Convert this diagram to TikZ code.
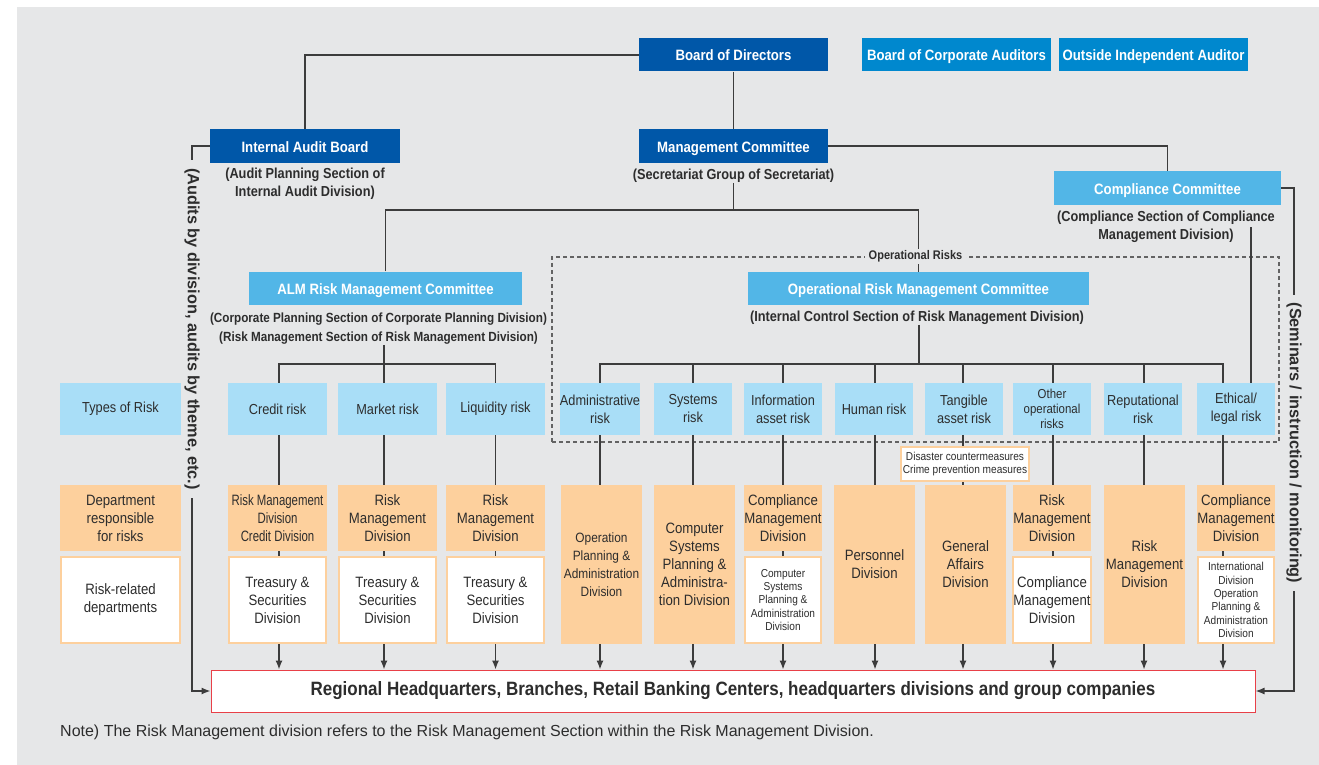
\documentclass[tikz,border=0pt]{standalone}
\usepackage{fontspec}
\setmainfont{Liberation Sans}[FakeStretch=0.88]
\newfontfamily\narrowfont{Liberation Sans}[FakeStretch=0.76]
\newfontfamily\widefont{Liberation Sans}
\usepackage{tikz}
\usepackage{xcolor}
\usetikzlibrary{arrows.meta}
\usetikzlibrary{positioning}

\definecolor{darkblue}{RGB}{0,87,168}
\definecolor{midblue}{RGB}{0,136,206}
\definecolor{lightblue}{RGB}{82,182,231}
\definecolor{riskblue}{RGB}{169,222,247}
\definecolor{peach}{RGB}{253,208,157}
\definecolor{bggray}{RGB}{230,231,232}
\definecolor{textgray}{RGB}{45,45,45}
\definecolor{linegray}{RGB}{60,60,60}
\definecolor{redline}{RGB}{232,64,72}

\newcommand{\fhead}{\bfseries\fontsize{15}{18}\selectfont}
\newcommand{\fsub}{\bfseries\fontsize{14.5}{18}\selectfont}
\newcommand{\frisk}{\fontsize{14.5}{18}\selectfont}
\newcommand{\fdept}{\fontsize{15}{18}\selectfont}
\newcommand{\fsmall}{\fontsize{11.5}{13.3}\selectfont}
\newcommand{\fside}{\widefont\bfseries\fontsize{16.3}{18}\selectfont}
\newcommand{\flabel}{\bfseries\fontsize{12.5}{15}\selectfont}
\newcommand{\fnote}{\widefont\fontsize{16}{18}\selectfont}
\newcommand{\fregion}{\bfseries\fontsize{19.3}{22}\selectfont}

\tikzstyle{boardbox} = [rectangle, fill=darkblue, text=white, font=\fhead, minimum height=33pt, inner sep=0pt, text height=13.5pt, text depth=1.5pt]
\tikzstyle{auditorbox} = [boardbox, fill=midblue]
\tikzstyle{committee} = [boardbox, fill=lightblue]
\tikzstyle{subnote} = [text=textgray, font=\fsub, align=center, inner sep=0pt]
\tikzstyle{riskbox} = [rectangle, fill=riskblue, text=textgray, font=\frisk, align=center, minimum height=52pt, inner sep=0pt]
\tikzstyle{deptbox} = [rectangle, fill=peach, text=textgray, font=\fdept, align=center, minimum height=66pt, inner sep=0pt]
\tikzstyle{tallbox} = [deptbox, minimum height=159pt]
\tikzstyle{unitbox} = [rectangle, fill=white, draw=peach, line width=2pt, text=textgray, font=\fdept, align=center, minimum height=86pt, inner sep=0pt]
\tikzstyle{sidetext} = [fill=bggray, text=textgray, font=\fside, rotate=-90, inner xsep=8pt, inner ysep=1pt]
\tikzstyle{line} = [draw=linegray, line width=1.3pt]
\tikzstyle{arrow} = [line, ->, >={Latex[length=9pt,width=7pt]}]

\begin{document}
\begin{tikzpicture}[x=1pt, y=-1pt]
\useasboundingbox (0,0) rectangle (1319,765);
\fill[bggray] (17,7) rectangle (1319,765);

% boards and committees
\node (bod) [boardbox, minimum width=189pt] at (733.5,55) {Board of Directors};
\node (bca) [auditorbox, minimum width=189pt] at (956.5,55) {Board of Corporate Auditors};
\node (oia) [auditorbox, minimum width=189pt] at (1153.5,55) {Outside Independent Auditor};
\node (iab) [boardbox, minimum width=190pt] at (305,146) {Internal Audit Board};
\node (iabsub) [subnote] at (305,184) {(Audit Planning Section of\\Internal Audit Division)};
\node (mc) [boardbox, minimum width=189pt] at (733.5,146) {Management Committee};
\node (mcsub) [subnote] at (733.5,176) {(Secretariat Group of Secretariat)};
\node (cc) [committee, minimum width=227pt, minimum height=34pt] at (1167.5,188) {Compliance Committee};
\node (ccsub) [subnote] at (1166,227) {(Compliance Section of Compliance\\Management Division)};
\node (alm) [committee, minimum width=273pt] at (385.5,288) {ALM Risk Management Committee};
\node (almsub) [subnote, font=\bfseries\fontsize{13.3}{19}\selectfont] at (378.5,329) {(Corporate Planning Section of Corporate Planning Division)\\(Risk Management Section of Risk Management Division)};
\node (opframe) [draw=linegray!80, line width=1.2pt, dash pattern=on 4pt off 3pt, minimum width=727pt, minimum height=185pt, inner sep=0pt] at (915.5,349.5) {};
\node (ormc) [committee, minimum width=341pt] at (918.5,288.5) {Operational Risk Management Committee};
\node (ormcsub) [subnote] at (917,318) {(Internal Control Section of Risk Management Division)};

% types of risk
\node (types) [riskbox, minimum width=121pt] at (120.5,409) {Types of Risk};
\node (credit) [riskbox, minimum width=99pt] at (277.5,409) {Credit risk};
\node (market) [riskbox, minimum width=99pt] at (387.5,409) {Market risk};
\node (liquidity) [riskbox, minimum width=99pt] at (495.5,409) {Liquidity risk};
\node (admin) [riskbox, minimum width=78pt] at (600,409) {Administrative\\risk};
\node (systems) [riskbox, minimum width=78pt] at (693,409) {Systems\\risk};
\node (info) [riskbox, minimum width=78pt] at (783,409) {Information\\asset risk};
\node (human) [riskbox, minimum width=78pt] at (874,409) {Human risk};
\node (tangible) [riskbox, minimum width=78pt] at (964,409) {Tangible\\asset risk};
\node (otherop) [riskbox, minimum width=78pt, font=\fontsize{13}{15}\selectfont] at (1052,409) {Other\\operational\\risks};
\node (reput) [riskbox, minimum width=78pt] at (1143,409) {Reputational\\risk};
\node (ethical) [riskbox, minimum width=78pt] at (1236,409) {Ethical/\\legal risk};

% departments
\node (dtypes) [deptbox, minimum width=121pt] at (120.5,518) {Department\\responsible\\for risks};
\node (utypes) [unitbox, minimum width=119pt] at (120.5,600) {Risk-related\\departments};
\node (dcredit) [deptbox, minimum width=99pt, font=\narrowfont\fdept] at (277.5,518) {Risk Management\\Division\\Credit Division};
\node (ucredit) [unitbox, minimum width=97pt] at (277.5,600) {Treasury \&\\Securities\\Division};
\node (dmarket) [deptbox, minimum width=99pt] at (387.5,518) {Risk\\Management\\Division};
\node (umarket) [unitbox, minimum width=97pt] at (387.5,600) {Treasury \&\\Securities\\Division};
\node (dliquidity) [deptbox, minimum width=99pt] at (495.5,518) {Risk\\Management\\Division};
\node (uliquidity) [unitbox, minimum width=97pt] at (495.5,600) {Treasury \&\\Securities\\Division};
\node (dadmin) [tallbox, minimum width=81pt, font=\fontsize{13.5}{18}\selectfont] at (601.5,564.5) {Operation\\Planning \&\\Administration\\Division};
\node (dsystems) [tallbox, minimum width=81pt] at (694.5,564.5) {Computer\\Systems\\Planning \&\\Administra-\\tion Division};
\node (dinfo) [deptbox, minimum width=78pt] at (783,518) {Compliance\\Management\\Division};
\node (uinfo) [unitbox, minimum width=76pt, font=\fsmall] at (783,600) {Computer\\Systems\\Planning \&\\Administration\\Division};
\node (dhuman) [tallbox, minimum width=81pt] at (874.5,564.5) {Personnel\\Division};
\node (dtangible) [tallbox, minimum width=81pt] at (965.5,564.5) {General\\Affairs\\Division};
\node (dotherop) [deptbox, minimum width=78pt] at (1052,518) {Risk\\Management\\Division};
\node (uotherop) [unitbox, minimum width=76pt] at (1052,600) {Compliance\\Management\\Division};
\node (dreput) [tallbox, minimum width=81pt] at (1144.5,564.5) {Risk\\Management\\Division};
\node (dethical) [deptbox, minimum width=78pt] at (1236,518) {Compliance\\Management\\Division};
\node (uethical) [unitbox, minimum width=76pt, font=\fsmall] at (1236,600) {International\\Division\\Operation\\Planning \&\\Administration\\Division};

\node (regional) [rectangle, fill=white, draw=redline, line width=1pt, minimum width=1044pt, minimum height=42pt, font=\fregion, text=textgray] at (733,691) {Regional Headquarters, Branches, Retail Banking Centers, headquarters divisions and group companies};

% connectors
\draw [line] (bod.west) -| (iab.north);
\draw [line] (bod.south) -- (mc.north);
\draw [line] (mc.east) -| (cc.north);
\coordinate (split) at (733.5,210);
\draw [line] (mcsub.south) -- (split);
\draw [line] (alm.north) |- (split) -| (ormc.north);
\coordinate (almbar) at (384,364);
\draw [line] (almsub.south -| almbar) -- (almbar);
\foreach \rk/\dx in {credit/1.5, market/-3.5, liquidity/0}
  \draw [line] (almbar) -| ([xshift=\dx pt]\rk.north);
\coordinate (opbar) at (919,364);
\draw [line] (ormcsub.south -| opbar) -- (opbar);
\foreach \rk/\dx in {admin/0, systems/0, info/0, human/1, tangible/-1, otherop/1, reput/1, ethical/-13}
  \draw [line] (opbar) -| ([xshift=\dx pt]\rk.north);
\draw [line] ([xshift=15pt]ethical.north) -- ([xshift=15pt]ethical.north |- ccsub.center);

\foreach \rk/\dx in {credit/1.5, market/-3.5, liquidity/0, info/0, otherop/1, ethical/-13} {
  \draw [line] ([xshift=\dx pt]\rk.south) -- ([xshift=\dx pt]\rk.south |- d\rk.north);
  \draw [line] ([xshift=\dx pt]\rk.south |- d\rk.south) -- ([xshift=\dx pt]\rk.south |- u\rk.north);
  \draw [arrow] ([xshift=\dx pt]\rk.south |- u\rk.south) -- ([xshift=\dx pt]\rk.south |- regional.north);
}
\foreach \rk/\dx in {admin/0, systems/0, human/1, tangible/-1, reput/1} {
  \draw [line] ([xshift=\dx pt]\rk.south) -- ([xshift=\dx pt]\rk.south |- d\rk.north);
  \draw [arrow] ([xshift=\dx pt]\rk.south |- d\rk.south) -- ([xshift=\dx pt]\rk.south |- regional.north);
}

\node (disaster) [rectangle, fill=white, draw=peach, line width=1.5pt, minimum width=128pt, minimum height=34pt, inner sep=0pt, align=center, text=textgray, font=\fsmall] at (965,464) {Disaster countermeasures\\Crime prevention measures};
\node (oplabel) [fill=bggray, text=textgray, font=\flabel, inner xsep=4pt, inner ysep=2pt] at (opframe.north) {Operational Risks};

% audits and monitoring
\coordinate (auditpos) at (192,329);
\coordinate (seminarpos) at (1294,443);
\draw [arrow] (iab.west) -| (auditpos) |- (regional.west);
\draw [arrow] (cc.east) -| (seminarpos) |- (regional.east);
\node (audittext) [sidetext] at (auditpos) {(Audits by division, audits by theme, etc.)};
\node (seminartext) [sidetext] at (seminarpos) {(Seminars / instruction / monitoring)};

\node (note) [anchor=west, text=textgray, font=\fnote, inner sep=0pt] at (60,732) {Note) The Risk Management division refers to the Risk Management Section within the Risk Management Division.};
\end{tikzpicture}
\end{document}
